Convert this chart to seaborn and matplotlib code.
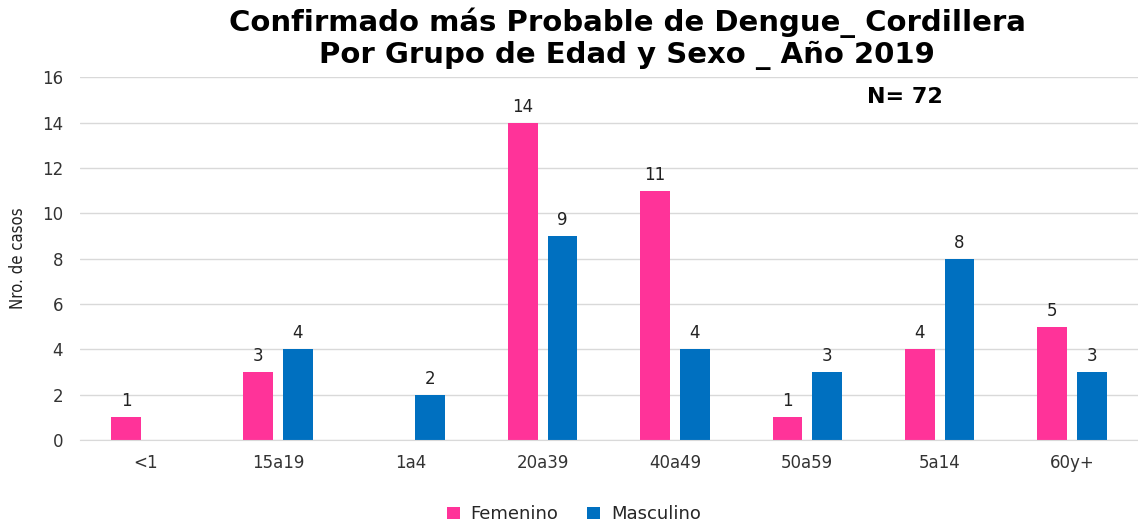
import matplotlib
matplotlib.use("Agg")
import matplotlib.pyplot as plt
import seaborn as sns
import numpy as np
import pandas as pd

grupos = ["<1", "15a19", "1a4", "20a39", "40a49", "50a59", "5a14", "60y+"]
femenino = [1, 3, np.nan, 14, 11, 1, 4, 5]
masculino = [np.nan, 4, 2, 9, 4, 3, 8, 3]
sexos = ["Femenino", "Masculino"]
colores = ["#FF3399", "#0070C0"]

df = pd.DataFrame({
    "grupo": grupos * 2,
    "sexo": ["Femenino"] * len(grupos) + ["Masculino"] * len(grupos),
    "casos": femenino + masculino,
}).dropna()

sns.set_style("white")
plt.rcParams["font.family"] = ["DejaVu Sans"]

fig = plt.figure(figsize=(11.38, 5.25), dpi=100)
ax = fig.add_axes([0.070, 0.162, 0.93, 0.691])

sns.barplot(data=df, x="grupo", y="casos", hue="sexo", order=grupos,
            hue_order=sexos, palette=colores, width=0.6, gap=0.25,
            saturation=1, errorbar=None, linewidth=0, ax=ax)

for cont in ax.containers:
    ax.bar_label(cont, fmt="%g", padding=5, fontsize=12, color="#222222")

ax.set_ylim(0, 16)
ax.set_yticks(range(0, 17, 2))
ax.set_xlim(-0.5, len(grupos) - 0.5)
ax.yaxis.grid(True, color="#D9D9D9", linewidth=1)
ax.set_axisbelow(True)
for s in ["top", "right", "left"]:
    ax.spines[s].set_visible(False)
ax.spines["bottom"].set_color("#D9D9D9")
ax.tick_params(axis="both", length=0, labelsize=12, colors="#333333")
ax.tick_params(axis="x", pad=10)
ax.tick_params(axis="y", pad=12)
ax.set_xlabel("")
ax.set_ylabel("Nro. de casos", fontsize=12, color="#222222",
              family=["DejaVu Sans"], fontstretch="condensed")
ax.yaxis.set_label_coords(-0.050, 0.5)

ax.legend(loc="upper center", bbox_to_anchor=(0.467, -0.135), ncol=2,
          frameon=False, fontsize=13, handlelength=0.7, handleheight=0.7,
          columnspacing=1.6, handletextpad=0.6)

fig.text(0.551, 0.985, "Confirmado más Probable de Dengue_ Cordillera\nPor Grupo de Edad y Sexo _ Año 2019",
         ha="center", va="top", fontsize=21, fontweight="bold",
         linespacing=1.12, color="black")
fig.text(0.795, 0.815, "N= 72", ha="center", va="center", fontsize=16,
         fontweight="bold", color="black")

fig.savefig("out.png", dpi=100)
